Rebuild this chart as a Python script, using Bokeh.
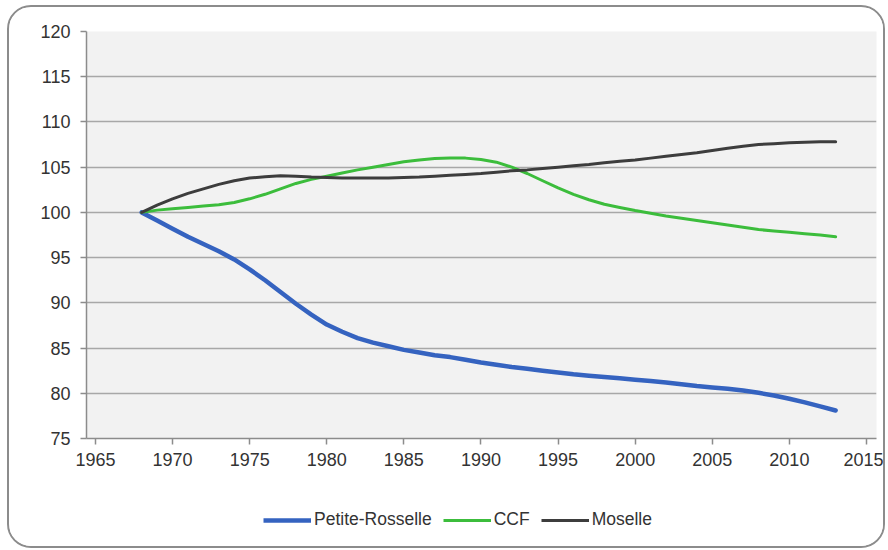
from bokeh.plotting import figure
from bokeh.layouts import column
from bokeh.models import Range1d, FixedTicker, Legend, LegendItem
from bokeh.embed import file_html
from bokeh.resources import INLINE

# Population index (base 100 in 1968), one value per year 1968-2013
years = list(range(1968, 2014))

petite_rosselle = [
    100.0, 99.1, 98.2, 97.3, 96.5, 95.7, 94.8, 93.7, 92.5, 91.2,
    89.9, 88.7, 87.6, 86.8, 86.1, 85.6, 85.2, 84.8, 84.5, 84.2,
    84.0, 83.7, 83.4, 83.15, 82.9, 82.7, 82.5, 82.3, 82.1, 81.95,
    81.8, 81.65, 81.5, 81.35, 81.2, 81.0, 80.8, 80.65, 80.5, 80.3,
    80.05, 79.75, 79.4, 79.0, 78.55, 78.1,
]

ccf = [
    100.0, 100.25, 100.4, 100.55, 100.7, 100.85, 101.1, 101.5, 102.0, 102.6,
    103.2, 103.65, 104.0, 104.35, 104.7, 105.0, 105.3, 105.6, 105.8, 105.95,
    106.0, 106.0, 105.85, 105.55, 105.0, 104.3, 103.5, 102.7, 102.0, 101.4,
    100.9, 100.55, 100.2, 99.9, 99.6, 99.35, 99.1, 98.85, 98.6, 98.35,
    98.1, 97.95, 97.8, 97.65, 97.5, 97.3,
]

moselle = [
    100.0, 100.8, 101.5, 102.1, 102.6, 103.1, 103.5, 103.8, 103.95, 104.05,
    104.0, 103.9, 103.85, 103.8, 103.8, 103.8, 103.8, 103.85, 103.9, 104.0,
    104.1, 104.2, 104.3, 104.45, 104.6, 104.7, 104.85, 105.0, 105.15, 105.3,
    105.5, 105.65, 105.8, 106.0, 106.2, 106.4, 106.6, 106.85, 107.1, 107.3,
    107.5, 107.6, 107.7, 107.75, 107.8, 107.8,
]

series_names = ["Petite-Rosselle", "CCF", "Moselle"]
series_colors = ["#3563c0", "#3cbd3c", "#3d3d3d"]
series_widths = [4.5, 3, 3]

x_ticks = list(range(1965, 2016, 5))
y_ticks = list(range(75, 121, 5))

FONT = "Liberation Sans"
TEXT = "#333333"
W = 874

# ---- main chart ----
p = figure(
    width=W, height=475,
    x_range=Range1d(1964.42, 2015.65),
    y_range=Range1d(75, 120),
    output_backend="svg",
    toolbar_location=None,
    min_border_left=77, min_border_right=7,
    min_border_top=24, min_border_bottom=44,
)
p.background_fill_color = "#f2f2f2"
p.border_fill_color = "white"
p.outline_line_color = None

p.xgrid.grid_line_color = None
p.ygrid.ticker = FixedTicker(ticks=y_ticks)
p.ygrid.grid_line_color = "#a8a8a8"
p.ygrid.grid_line_width = 1.5

for ax in (p.xaxis[0], p.yaxis[0]):
    ax.axis_line_color = "#8c8c8c"
    ax.axis_line_width = 1.5
    ax.major_tick_line_color = "#8c8c8c"
    ax.major_tick_line_width = 1.5
    ax.major_tick_in = 0
    ax.major_tick_out = 6
    ax.minor_tick_line_color = None
    ax.major_label_text_font = FONT
    ax.major_label_text_font_size = "18px"
    ax.major_label_text_color = TEXT

p.xaxis.ticker = FixedTicker(ticks=x_ticks)
p.yaxis.ticker = FixedTicker(ticks=y_ticks)
p.xaxis.major_label_standoff = 8
p.yaxis.major_label_standoff = 10

for vals, col, lw in zip([petite_rosselle, ccf, moselle], series_colors, series_widths):
    p.line(years, vals, line_color=col, line_width=lw, line_join="round", line_cap="round")

# ---- legend strip under the chart ----
leg = figure(
    width=W, height=64,
    x_range=Range1d(0, 1), y_range=Range1d(0, 1),
    x_axis_type=None, y_axis_type=None,
    output_backend="svg",
    toolbar_location=None,
    min_border=0,
)
leg.outline_line_color = None
leg.background_fill_color = "white"
leg.border_fill_color = "white"

items = []
for name, vals, col, lw in zip(series_names, [petite_rosselle, ccf, moselle],
                               series_colors, series_widths):
    # same series, kept outside the strip's visible range; only its legend swatch shows
    r = leg.line(years, vals, line_color=col, line_width=lw)
    items.append(LegendItem(label=name, renderers=[r]))

legend = Legend(
    items=items,
    location=(177, 16),
    orientation="horizontal",
    glyph_width=48, glyph_height=20,
    label_height=20,
    label_standoff=3, spacing=11,
    padding=0, margin=0,
    border_line_color=None,
    background_fill_alpha=0,
    label_text_font=FONT,
    label_text_font_size="17.5px",
    label_text_color=TEXT,
)
leg.add_layout(legend, "center")

layout = column(p, leg, spacing=0)
layout.styles = {
    "margin-left": "7px",
    "margin-top": "5px",
    "border": "2px solid #8c8c8c",
    "border-radius": "24px",
    "overflow": "hidden",
}

open("out.html", "w").write(file_html(layout, INLINE))
